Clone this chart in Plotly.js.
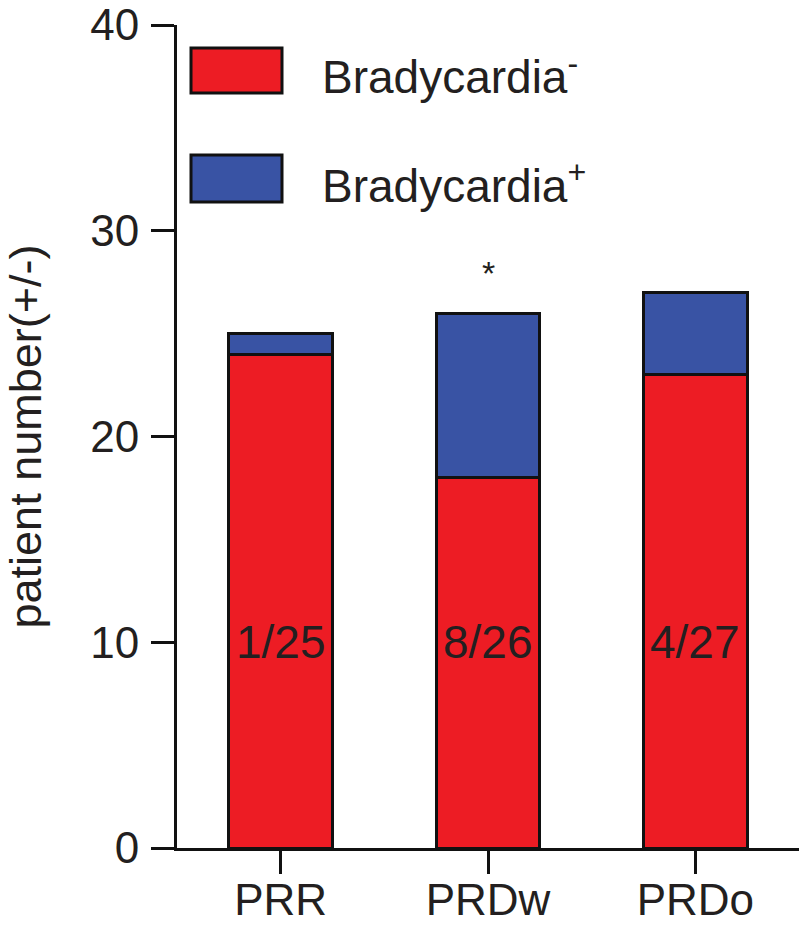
<!DOCTYPE html>
<html>
<head>
<meta charset="utf-8">
<script src="https://cdn.plot.ly/plotly-3.0.1.min.js"></script>
<style>html,body{margin:0;padding:0;background:#fff}#chart{width:800px;height:926px}</style>
</head>
<body>
<div id="chart"></div>
<script>
const categories = ["PRR", "PRDw", "PRDo"];
const bradyNeg = [24, 18, 23];
const bradyPos = [1, 8, 4];
const yTicks = [0, 10, 20, 30, 40];
const seriesNames = ["Bradycardia<sup>-</sup>", "Bradycardia<sup>+</sup>"];
const significance = ["", "*", ""];

const RED = "#ed1c24", BLUE = "#3953a4", INK = "#231f20";
const FONT = "Liberation Sans, Arial, sans-serif";

const W = 800, H = 926, L = 177, R = 1, T = 25, B = 78;
const pw = W - L - R, ph = H - T - B;
const px = x => (x - L) / pw;
const py = y => (H - B - y) / ph;

const traces = [
  {type: "bar", x: categories, y: bradyNeg, name: seriesNames[0], width: 0.5,
   marker: {color: RED, line: {color: "#111", width: 3}}, showlegend: false, hoverinfo: "x+y"},
  {type: "bar", x: categories, y: bradyPos, name: seriesNames[1], width: 0.5,
   marker: {color: BLUE, line: {color: "#111", width: 3}}, showlegend: false, hoverinfo: "x+y"}
];

const annotations = categories.map((c, i) => ({
  x: c, y: 10, xref: "x", yref: "y", showarrow: false,
  text: bradyPos[i] + "/" + (bradyNeg[i] + bradyPos[i]),
  font: {family: FONT, size: 46, color: INK}
}));
categories.forEach((c, i) => {
  if (significance[i]) annotations.push({
    x: c, y: bradyNeg[i] + bradyPos[i] + 1.95, xref: "x", yref: "y", showarrow: false,
    text: significance[i], font: {family: FONT, size: 34, color: INK}
  });
});

// legend drawn as shapes + labels
const legendRows = [{y0: 48, y1: 93, color: RED}, {y0: 155, y1: 202, color: BLUE}];
const shapes = [];
legendRows.forEach((r, i) => {
  shapes.push({type: "rect", xref: "paper", yref: "paper",
    x0: px(191), x1: px(282), y0: py(r.y1), y1: py(r.y0),
    fillcolor: r.color, line: {color: "#111", width: 3}});
  annotations.push({xref: "paper", yref: "paper", x: px(320), y: py((r.y0 + r.y1) / 2 + 4),
    xanchor: "left", yanchor: "middle", showarrow: false, text: seriesNames[i],
    font: {family: FONT, size: 46, color: INK}});
});

const layout = {
  width: W, height: H, margin: {l: L, r: R, t: T, b: B}, barmode: "stack",
  paper_bgcolor: "#fff", plot_bgcolor: "#fff",
  font: {family: FONT, color: INK},
  xaxis: {range: [-0.5, 2.5], showgrid: false, zeroline: false, showline: true,
    linecolor: "#111", linewidth: 3, ticks: "outside", ticklen: 23, tickwidth: 3, tickcolor: "#111",
    tickfont: {family: FONT, size: 44, color: INK}, ticklabelstandoff: -12,
    ticklabeloverflow: "allow", fixedrange: true},
  yaxis: {range: [0, 40], tickvals: yTicks, showgrid: false, zeroline: false, showline: true,
    linecolor: "#111", linewidth: 3, ticks: "outside", ticklen: 23, tickwidth: 3, tickcolor: "#111",
    tickfont: {family: FONT, size: 44, color: INK}, ticklabelstandoff: 3,
    ticklabeloverflow: "allow",
    title: {text: "patient number(+/-)", font: {family: FONT, size: 45, color: INK}, standoff: 48},
    fixedrange: true},
  shapes: shapes, annotations: annotations
};

Plotly.newPlot("chart", traces, layout, {displayModeBar: false, staticPlot: true});
</script>
</body>
</html>
